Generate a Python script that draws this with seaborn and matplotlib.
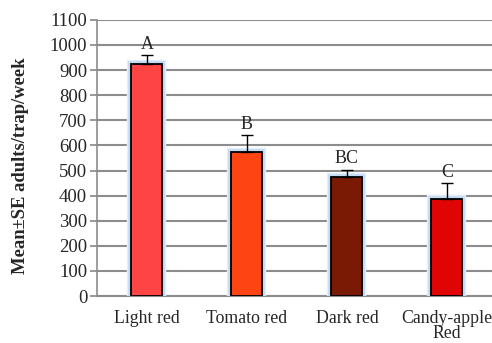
import numpy as np
import pandas as pd
import matplotlib
matplotlib.use("Agg")
import matplotlib.pyplot as plt
import matplotlib.patheffects as pe
import seaborn as sns

# values
colours = ["Light red", "Tomato red", "Dark red", "Candy-apple\nRed"]
means = [923, 572, 473, 385]
se = [36, 68, 29, 64]
letters = ["A", "B", "BC", "C"]
bar_colors = ["#FF4444", "#FF4414", "#7A1A04", "#E00404"]

df = pd.DataFrame({"colour": colours, "mean": means})

sns.set_theme(style="white")
plt.rcParams["font.family"] = ["Liberation Serif", "DejaVu Serif"]

fig = plt.figure(figsize=(4.92, 3.43), dpi=100)
ax = fig.add_axes([0.197, 0.137, 0.813, 0.805])

sns.barplot(data=df, x="colour", y="mean", hue="colour", palette=bar_colors,
            legend=False, width=0.31, edgecolor="black", linewidth=1.3,
            saturation=1, ax=ax, zorder=3)

# soft blue glow around the bars
for p in ax.patches:
    p.set_path_effects([
        pe.Stroke(linewidth=6, foreground="#E2EEFA"),
        pe.Stroke(linewidth=4, foreground="#C2DAF4"),
        pe.Normal(),
    ])

x = np.arange(len(colours))
ax.errorbar(x, means, yerr=[np.zeros(len(se)), se], fmt="none",
            ecolor="black", elinewidth=1, capsize=4, capthick=1, zorder=4)

for xi, m, s, lab in zip(x, means, se, letters):
    ax.annotate(lab, (xi, m + s), xytext=(0, 2), textcoords="offset points",
                ha="center", va="bottom", fontsize=13)

ax.set_ylim(0, 1100)
ax.set_xlim(-0.5, 3.5)
ax.set_yticks(range(0, 1101, 100))
ax.yaxis.grid(True, color="#8C8C8C", linewidth=1.5)
ax.set_axisbelow(True)
for side in ["top", "right"]:
    ax.spines[side].set_visible(False)
ax.spines["left"].set_color("#8C8C8C")
ax.spines["bottom"].set_color("#8C8C8C")
ax.spines["left"].set_linewidth(1.2)
ax.spines["bottom"].set_linewidth(1.5)
ax.tick_params(axis="y", left=True, length=5, color="#8C8C8C", labelsize=13.5, pad=2)
ax.tick_params(axis="x", bottom=False, labelsize=12.8, pad=4)
for t in ax.get_xticklabels():
    t.set_linespacing(0.85)
ax.set_xlabel("")
ax.set_ylabel("Mean\u00b1SE adults/trap/week", fontsize=13.4, fontweight="bold")
ax.yaxis.set_label_coords(-0.17, 0.47)

fig.savefig("out.png", dpi=100)
